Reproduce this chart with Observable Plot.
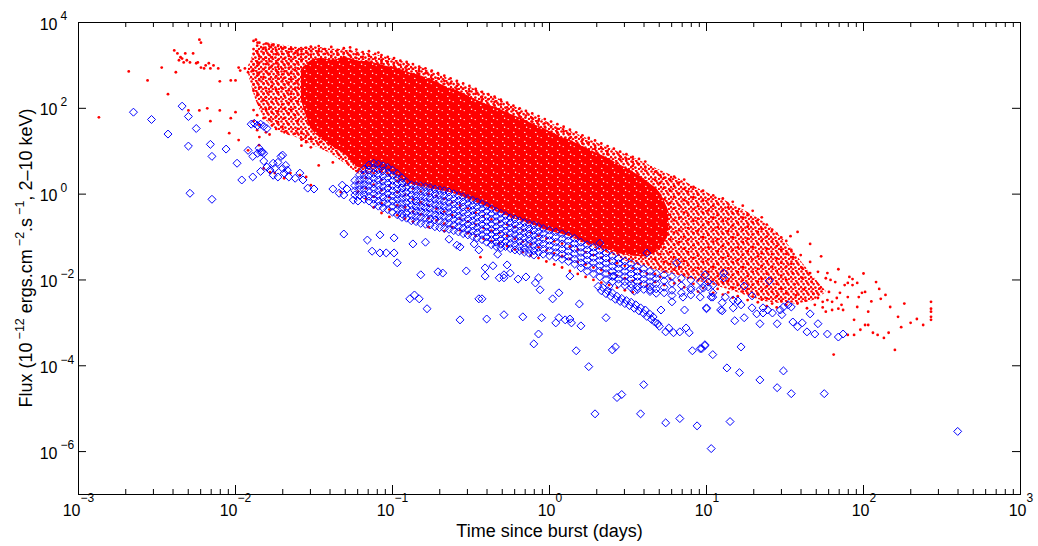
<!DOCTYPE html>
<html><head><meta charset="utf-8">
<script src="https://cdn.jsdelivr.net/npm/d3@7"></script>
<script src="https://cdn.jsdelivr.net/npm/@observablehq/plot@0.6"></script>
<style>body{margin:0;background:#fff;}</style>
</head><body><div id="chart"></div>
<script>
// ---------- DATA (log10 of time in days, log10 of flux) ----------
const xTickExps = [-3, -2, -1, 0, 1, 2, 3];
const yTickExps = [4, 2, 0, -2, -4, -6];
const minorMult = [2, 3, 4, 5, 6, 7, 8, 9];
const xTitle = "Time since burst (days)";

// outline of the whole red cloud (medium density, speckled)
const outerLogT  = [-1.92,-1.86,-1.80,-1.70,-1.60,-1.50,-1.40,-1.30,-1.20,-1.10,-1.00,-0.90,-0.80,-0.70,-0.60,-0.50,-0.40,-0.30,-0.20,-0.10,0.00,0.10,0.20,0.30,0.40,0.50,0.60,0.70,0.80,0.90,1.00,1.10,1.20,1.30,1.40,1.50,1.60,1.70,1.76];
const outerHiLogF = [2.95,3.40,3.52,3.47,3.42,3.44,3.38,3.36,3.30,3.24,3.15,3.05,2.93,2.78,2.62,2.48,2.34,2.18,2.00,1.84,1.66,1.52,1.36,1.20,1.04,0.90,0.74,0.56,0.40,0.22,0.04,-0.12,-0.30,-0.50,-0.75,-1.10,-1.55,-2.00,-2.25];
const outerLoLogF = [2.85,2.10,1.70,1.42,1.30,1.12,0.95,0.70,0.45,0.50,0.40,0.22,0.15,0.08,0.00,-0.15,-0.30,-0.48,-0.62,-0.74,-0.86,-0.96,-1.12,-1.28,-1.42,-1.58,-1.70,-1.80,-1.88,-1.98,-2.08,-2.18,-2.30,-2.42,-2.52,-2.55,-2.55,-2.45,-2.30];

// saturated core of the red cloud
const coreLogT  = [-1.58,-1.52,-1.46,-1.38,-1.30,-1.22,-1.14,-1.06,-0.98,-0.90,-0.82,-0.74,-0.66,-0.58,-0.50,-0.42,-0.34,-0.26,-0.18,-0.10,-0.02,0.06,0.14,0.22,0.30,0.38,0.46,0.54,0.62,0.70,0.76];
const coreHiLogF = [2.90,3.10,3.16,3.12,3.18,3.10,3.08,3.00,2.94,2.84,2.76,2.64,2.50,2.40,2.26,2.12,2.02,1.88,1.76,1.62,1.50,1.36,1.24,1.10,0.96,0.82,0.66,0.50,0.30,0.05,-0.40];
const coreLoLogF = [2.20,1.55,1.30,1.10,0.92,0.62,0.62,0.60,0.45,0.26,0.18,0.12,0.06,-0.02,-0.14,-0.26,-0.40,-0.52,-0.62,-0.72,-0.84,-0.92,-1.00,-1.12,-1.22,-1.30,-1.40,-1.45,-1.45,-1.30,-0.95];

const redIsolated = [[-2.87,1.79],[-2.68,2.86],[-2.56,2.65],[-2.47,2.95],[-2.43,2.33],[-2.38,2.84],
[-2.39,3.35],[-2.37,3.28],[-2.35,3.19],[-2.36,3.12],[-2.34,3.16],[-2.33,3.07],[-2.31,3.12],[-2.32,3.28],[-2.29,3.07],[-2.27,3.28],[-2.25,3.05],[-2.24,3.07],[-2.22,2.95],[-2.20,2.93],[-2.19,3.00],[-2.17,3.05],[-2.16,2.93],[-2.14,3.00],[-2.11,2.93],[-2.23,3.60],[-2.22,3.53],
[-2.10,2.63],[-2.03,2.65],[-2.00,2.65],[-2.30,1.95],[-2.23,1.95],[-2.18,2.00],[-2.10,1.95],[-2.00,1.91],[-2.16,1.70],[-2.03,1.77],[-2.04,1.42],[-1.98,1.26],[-1.92,1.02],
[-1.98,2.95],[-1.97,2.88],[-1.94,2.93],[-1.92,2.84],[-1.89,2.88],
[-1.85,1.14],[-1.82,0.60],[-1.78,0.51],[-1.75,0.49],[-1.69,0.37],[-1.65,0.49],[-1.59,0.44],[-1.55,0.40],[-1.52,0.21],[-1.46,1.21],[-1.36,1.09],[-1.47,0.67],[-1.38,0.74],[-1.34,0.91],[-1.33,0.05],
[-1.87,3.60],[-1.86,3.53],[-1.76,3.47],[-1.27,3.42],[-1.09,3.30],[-0.44,-1.47]];

const redEarly = [
[-1.885,[3.57,3.38,3.27,3.02,2.88,2.55,2.41,1.96,1.70]],
[-1.862,[3.46,3.33,3.09,2.99,2.76,2.30,1.84,1.49]],
[-1.848,[3.53,3.21,3.06,2.83,2.66,2.49,2.08,1.62,1.33]],
[-1.821,[3.41,3.29,3.14,2.91,2.73,2.58,2.34,2.19,1.77]],
[-1.806,[3.51,3.37,3.18,3.03,2.86,2.47,2.26,1.98,1.44]],
[-1.783,[3.44,3.24,3.10,2.95,2.80,2.68,2.39,2.02,1.73,1.39]],
[-1.768,[3.48,3.32,3.19,2.99,2.61,2.52,2.14,1.90,1.60]],
[-1.741,[3.36,3.26,3.05,2.89,2.75,2.44,2.23,1.81,1.52]],
[-1.729,[3.45,3.13,2.97,2.84,2.69,2.57,2.37,1.93,1.68]],
[-1.702,[3.39,3.27,3.08,2.92,2.79,2.63,2.47,2.09,1.57]],
[-1.688,[3.42,3.16,3.01,2.86,2.71,2.55,2.29,1.99,1.77,1.45]],
[-1.661,[3.31,3.22,3.04,2.94,2.78,2.60,2.42,2.12,1.88,1.63]],
[-1.647,[3.38,3.11,2.97,2.82,2.67,2.50,2.34,2.18,1.96]],
[-1.622,[3.29,3.19,3.02,2.89,2.74,2.58,2.44,2.25,2.03,1.84,1.41]],
[-1.603,[3.35,3.24,3.07,2.93,2.80,2.65,2.48,2.31,2.16,1.71,1.52]],
[-1.58,[3.37,3.26,3.12,1.42,1.27,1.13]],
[-1.55,[3.41,3.30,3.20,1.36,1.21]],
[-1.52,[3.44,3.34,3.25,1.29,1.09]]];

const redUpper = [
[-1.47,[3.45,3.33,3.24]],[-1.43,[3.38,3.27]],[-1.39,[3.43,3.31,3.22]],[-1.35,[3.36,3.25]],
[-1.31,[3.40,3.29,3.19]],[-1.27,[3.34,3.23]],[-1.23,[3.37,3.26,3.17]],[-1.19,[3.31,3.20]],
[-1.15,[3.33,3.22,3.14]],[-1.11,[3.27,3.16]],[-1.07,[3.24,3.12,3.05]],[-1.03,[3.20,3.09]],
[-0.99,[3.17,3.06,2.98]],[-0.95,[3.11,3.01]],[-0.91,[3.08,2.98,2.90]],[-0.87,[3.03,2.92]],
[-0.83,[2.97,2.87,2.80]],[-0.79,[2.93,2.82]],[-0.75,[2.88,2.77,2.68]],[-0.71,[2.82,2.70]],
[-0.67,[2.76,2.64,2.57]],[-0.63,[2.70,2.58]],[-0.59,[2.64,2.52,2.44]],[-0.55,[2.58,2.46]],
[-0.51,[2.52,2.40,2.32]],[-0.47,[2.45,2.34]],[-0.43,[2.38,2.27,2.20]],[-0.39,[2.33,2.21]],
[-0.35,[2.27,2.15,2.07]],[-0.31,[2.20,2.09]],[-0.27,[2.13,2.02,1.95]],[-0.23,[2.06,1.96]],
[-0.19,[2.00,1.89,1.81]],[-0.15,[1.94,1.83]],[-0.11,[1.88,1.77,1.69]],[-0.07,[1.82,1.71]],
[-0.03,[1.75,1.65,1.57]],[0.01,[1.69,1.58]],[0.05,[1.63,1.52,1.44]],[0.09,[1.57,1.46]],
[0.13,[1.50,1.40,1.31]],[0.17,[1.44,1.33]],[0.21,[1.37,1.26,1.18]],[0.25,[1.31,1.20]],
[0.29,[1.25,1.13,1.05]],[0.33,[1.18,1.07]],[0.37,[1.12,1.01,0.93]],[0.41,[1.06,0.94]],
[0.45,[0.99,0.88,0.80]],[0.49,[0.93,0.82]],[0.53,[0.87,0.75,0.66]],[0.57,[0.82,0.70]],
[0.61,[0.76,0.64,0.55]]];

const redLower = [
[-1.22,[0.55,0.28,0.06]],[-1.17,[0.61,0.38,0.14,-0.11]],[-1.12,[0.49,0.22,-0.06,-0.31]],
[-1.07,[0.56,0.33,0.09,-0.21,-0.44]],[-1.02,[0.44,0.19,-0.07,-0.36,-0.53]],[-0.97,[0.31,0.04,-0.26,-0.49]],
[-0.92,[0.21,-0.02,-0.31,-0.57]],[-0.87,[0.13,-0.13,-0.41,-0.64]],[-0.82,[0.06,-0.19,-0.47]],
[-0.77,[0.01,-0.27,-0.56,-0.77]],[-0.72,[-0.04,-0.34,-0.61]],[-0.67,[-0.11,-0.41,-0.69,-0.86]],
[-0.62,[-0.19,-0.49,-0.77]],[-0.57,[-0.27,-0.57,-0.84]],[-0.52,[-0.33,-0.64,-0.91]],
[-0.47,[-0.43,-0.71,-0.97]],[-0.42,[-0.51,-0.79,-1.04]],[-0.37,[-0.59,-0.85,-1.09]],
[-0.32,[-0.65,-0.91,-1.15]],[-0.27,[-0.71,-0.97,-1.21]],[-0.22,[-0.77,-1.04,-1.29]],
[-0.17,[-0.84,-1.11,-1.35]],[-0.12,[-0.89,-1.17,-1.43]],[-0.07,[-0.97,-1.24,-1.49]],
[-0.02,[-1.04,-1.31,-1.57]],[0.03,[-1.10,-1.38,-1.64]],[0.08,[-1.15,-1.44,-1.71]],
[0.13,[-1.22,-1.51,-1.79]],[0.18,[-1.29,-1.58,-1.86]],[0.23,[-1.35,-1.64,-1.93]],
[0.28,[-1.42,-1.71,-2.00]],[0.33,[-1.48,-1.77,-2.06]],[0.38,[-1.55,-1.84,-2.12]],
[0.43,[-1.61,-1.90,-2.18]],[0.48,[-1.67,-1.96,-2.24]],[0.53,[-1.73,-2.02,-2.29]],
[0.58,[-1.79,-2.08]],[0.62,[-1.85,-2.13]]];

const redLate = [
[0.672,[0.52,0.33,0.11,-0.18,-0.41,-0.66,-0.97,-1.29,-1.52,-1.86,-2.05]],
[0.705,[0.44,0.26,-0.02,-0.29,-0.55,-0.83,-1.11,-1.40,-1.69,-1.93]],
[0.731,[0.38,0.15,-0.12,-0.37,-0.72,-0.95,-1.24,-1.58,-1.81,-2.12]],
[0.768,[0.33,0.08,-0.21,-0.48,-0.77,-1.06,-1.35,-1.63,-1.97]],
[0.794,[0.41,0.19,-0.06,-0.33,-0.61,-0.90,-1.18,-1.47,-1.76,-2.08]],
[0.826,[0.27,0.01,-0.26,-0.55,-0.84,-1.12,-1.41,-1.70,-2.01]],
[0.858,[0.34,0.12,-0.14,-0.43,-0.70,-0.99,-1.27,-1.56,-1.88,-2.17]],
[0.883,[0.06,-0.20,-0.50,-0.79,-1.06,-1.35,-1.66,-1.95]],
[0.917,[0.17,-0.07,-0.35,-0.62,-0.91,-1.19,-1.49,-1.77,-2.09]],
[0.946,[-0.01,-0.28,-0.57,-0.85,-1.14,-1.43,-1.72,-2.01,-2.27]],
[0.978,[0.08,-0.15,-0.44,-0.72,-1.00,-1.29,-1.58,-1.87,-2.19]],
[1.012,[-0.12,-0.38,-0.66,-0.95,-1.24,-1.52,-1.81,-2.10]],
[1.043,[-0.03,-0.27,-0.55,-0.83,-1.11,-1.40,-1.69,-1.99,-2.30]],
[1.071,[-0.22,-0.49,-0.77,-1.05,-1.33,-1.62,-1.91,-2.21]],
[1.104,[-0.10,-0.36,-0.63,-0.92,-1.20,-1.49,-1.78,-2.07,-2.34]],
[1.138,[-0.31,-0.58,-0.86,-1.15,-1.44,-1.73,-2.02,-2.29]],
[1.167,[-0.18,-0.45,-0.73,-1.01,-1.30,-1.59,-1.88,-2.18,-2.41]],
[1.199,[-0.40,-0.67,-0.95,-1.24,-1.53,-1.82,-2.12,-2.38]],
[1.231,[-0.27,-0.55,-0.83,-1.12,-1.41,-1.70,-2.00,-2.27]],
[1.262,[-0.49,-0.76,-1.04,-1.33,-1.62,-1.91,-2.21,-2.47]],
[1.294,[-0.39,-0.66,-0.94,-1.23,-1.52,-1.81,-2.11,-2.39]],
[1.327,[-0.60,-0.88,-1.16,-1.45,-1.74,-2.04,-2.33,-2.52]],
[1.352,[-0.54,-0.81,-1.09,-1.38,-1.67,-1.97,-2.26,-2.46]],
[1.384,[-0.71,-0.99,-1.27,-1.56,-1.85,-2.15,-2.43,-2.61]],
[1.418,[-0.83,-1.11,-1.40,-1.69,-1.98,-2.28,-2.55]],
[1.447,[-0.92,-1.21,-1.50,-1.79,-2.09,-2.38,-2.64]],
[1.476,[-1.01,-1.30,-1.60,-1.90,-2.20,-2.49]],
[1.508,[-1.09,-1.39,-1.69,-2.00,-2.31,-2.58]]];

const redTail = [[1.535,-0.98],[1.58,-0.88],[1.66,-1.16],[1.55,-1.47],[1.61,-1.72],[1.66,-1.84],[1.71,-1.81],[1.77,-1.84],[1.79,-2.00],[1.82,-2.05],[1.90,-2.07],[1.93,-2.12],[1.96,-2.07],[1.99,-2.30],[2.01,-2.28],[2.08,-2.05],[2.10,-2.21],[1.85,-2.30],[1.90,-2.40],[1.83,-2.42],[1.80,-2.51],[1.77,-2.47],[1.74,-2.51],[1.71,-2.42],[1.76,-2.74],[1.80,-2.70],[1.84,-2.67],[1.87,-2.70],[1.96,-2.63],[2.03,-2.74],[2.11,-2.44],[2.17,-2.63],[1.94,-2.93],[1.98,-3.16],[2.01,-3.05],[2.03,-3.05],[2.06,-3.23],[2.09,-3.28],[2.13,-3.35],[2.16,-3.23],[2.22,-2.86],[2.30,-3.00],[2.34,-2.91],[2.20,-3.63],[1.81,-3.74],[1.90,-3.28],[1.94,-3.28],[2.43,-2.51],[2.43,-2.67],[2.43,-2.74],[2.43,-2.86],[2.43,-2.93],[1.91,-1.93],[1.93,-1.98],
[1.54,-1.30],[1.54,-1.62],[1.55,-1.85],[1.56,-2.10],[1.57,-2.36],[1.58,-2.55],[1.60,-1.42],[1.61,-1.95],[1.62,-2.22],[1.63,-2.48],[1.64,-2.66],[1.66,-1.58],[1.67,-2.05],[1.68,-2.32],[1.69,-2.58],[1.72,-2.20],[1.74,-2.64],[1.76,-1.96],[1.78,-2.28],[1.86,-2.58],[1.88,-2.12],[1.97,-2.40],[2.05,-2.50],[2.14,-2.35],[2.26,-2.55],[2.24,-3.10],[2.38,-3.05],[1.73,-1.45],[1.84,-1.75],[2.00,-1.85]];

const blueSparse = [[-2.65,1.91],[-2.535,1.74],[-2.43,1.40],[-2.34,2.05],[-2.30,1.81],[-2.25,1.53],[-2.30,1.12],[-2.16,1.16],[-2.15,0.88],[-2.06,1.05],[-1.99,0.72],[-1.96,0.33],[-1.89,0.40],[-2.29,0.02],[-2.15,-0.12],
[-1.90,1.63],[-1.88,1.65],[-1.86,1.60],[-1.84,1.63],[-1.82,1.58],[-1.80,1.53],
[-1.92,1.02],[-1.85,1.07],[-1.83,0.98],[-1.89,0.88],[-1.86,0.95],[-1.84,0.98],[-1.82,0.95],[-1.82,0.77],
[-1.80,0.63],[-1.78,0.56],[-1.76,0.72],[-1.75,0.60],[-1.73,0.74],[-1.71,0.88],[-1.70,0.91],[-1.70,0.60],[-1.68,0.67],[-1.67,0.56],[-1.69,0.49],[-1.66,0.40],[-1.84,0.53],[-1.76,0.44],[-1.73,0.40],[-1.62,0.37],[-1.59,0.49],[-1.57,0.33],[-1.54,0.14],[-1.50,0.12],
[-1.38,0.12],[-1.34,0.02],[-1.32,0.21],[-1.31,-0.02],[-1.29,0.12],[-1.25,-0.14],[-1.22,-0.16],
[-1.31,-0.93],[-1.16,-1.07],[-1.08,-0.95],[-0.99,-1.02],[-1.13,-1.33],[-1.08,-1.37],[-1.04,-1.37],[-0.99,-1.37],[-0.97,-1.60],[-0.87,-1.16],[-0.79,-1.12],[-0.82,-1.88],[-0.71,-1.81],[-0.68,-1.84],[-0.64,-1.05],[-0.59,-1.19],[-0.57,-1.23],[-0.53,-1.79],[-0.48,-1.16],[-0.45,-1.30],[-0.89,-2.44],[-0.86,-2.35],[-0.83,-2.44],[-0.78,-2.67],[-0.57,-2.93],[-0.45,-2.44],
[-0.41,-1.72],[-0.41,-1.91],[-0.36,-1.67],[-0.33,-1.40],[-0.27,-1.65],[-0.25,-1.84],[-0.32,-1.95],[-0.29,-1.95],[-0.29,-1.88],[-0.20,-1.98],[-0.15,-1.93],[-0.09,-2.07],[-0.07,-1.95],[-0.06,-2.23],[-0.43,-2.44],[0.02,-2.44],[0.06,-2.30],[0.19,-2.56],
[-0.40,-2.91],[-0.29,-2.81],[-0.17,-2.86],[-0.05,-2.88],[0.04,-3.00],[0.06,-2.88],[0.10,-2.93],[0.13,-2.91],[0.14,-3.00],[0.20,-3.07],[0.36,-2.88],[-0.07,-3.26],[-0.10,-3.49],[0.17,-3.65],[0.40,-3.63],[0.42,-3.56],[0.25,-4.02],[0.43,-4.74],[0.46,-4.67],[0.60,-4.44],[0.29,-5.12],[0.58,-5.12],[0.74,-5.33],[0.83,-5.23],[0.94,-5.40],[1.03,-5.93],[1.15,-5.30],
[0.13,-1.91],[0.32,-1.14],[0.38,-2.14],[0.41,-1.91],[0.54,-2.26],[0.64,-2.23],[0.71,-2.70],[0.78,-2.51],[0.86,-2.70],[0.90,-2.23],[0.85,-2.40],[1.00,-2.65],[1.04,-2.40],[1.09,-2.70],
[0.91,-3.65],[0.96,-3.60],[0.99,-3.53],[1.04,-3.74],
[0.74,-3.21],[0.76,-3.12],[0.79,-3.23],[0.83,-3.21],[0.87,-3.12],[0.89,-3.23],
[0.99,-1.88],[1.01,-2.05],[1.01,-2.16],[1.04,-2.12],[0.98,-2.19],[1.11,-1.95],[1.24,-2.14],[1.04,-2.30],[1.03,-2.40],[1.12,-2.40],[1.17,-2.47],[1.20,-2.49],[1.22,-2.58],[1.17,-2.65],[1.29,-2.37],[1.40,-2.02],[1.00,-2.67],[1.10,-2.53],[1.10,-2.72],[1.18,-2.95],[1.24,-2.88],[1.29,-2.65],[1.34,-3.02],[1.32,-2.79],[1.36,-2.65],[1.36,-2.77],[1.39,-2.70],[1.42,-2.77],[1.45,-3.02],[1.47,-2.70],[1.49,-2.63],[1.52,-2.58],[1.54,-2.63],[1.48,-2.81],[1.55,-2.98],[1.58,-3.09],[1.61,-3.00],[1.64,-3.21],[1.66,-2.79],[1.69,-3.26],[1.71,-3.02],[1.77,-3.26],[1.84,-3.33],[1.87,-3.26],
[0.99,-3.51],[0.97,-3.60],[1.22,-3.56],[1.13,-4.05],[1.21,-4.16],[1.34,-4.33],[1.49,-4.12],[1.45,-4.51],[1.54,-4.65],[1.75,-4.65],[2.60,-5.53],
[0.62,-1.37],[0.81,-1.60],[1.11,-1.84]];

const blueBand = [
[-1.24,[0.32,0.20,0.08,-0.02]],
[-1.21,[0.45,0.33,0.21,0.10,-0.03]],
[-1.18,[0.58,0.45,0.34,0.22,0.10,-0.02,-0.12]],
[-1.15,[0.68,0.56,0.44,0.32,0.20,0.08,-0.05,-0.16]],
[-1.12,[0.72,0.60,0.48,0.36,0.24,0.12,0.00,-0.12,-0.24]],
[-1.09,[0.70,0.57,0.45,0.33,0.21,0.09,-0.03,-0.16,-0.28]],
[-1.06,[0.66,0.54,0.42,0.30,0.18,0.06,-0.07,-0.19,-0.32]],
[-1.03,[0.62,0.50,0.38,0.26,0.14,0.02,-0.10,-0.22,-0.36]],
[-1.00,[0.56,0.44,0.32,0.20,0.08,-0.04,-0.16,-0.28,-0.42]],
[-0.97,[0.48,0.36,0.24,0.12,0.00,-0.12,-0.24,-0.36,-0.48]],
[-0.94,[0.38,0.26,0.14,0.02,-0.10,-0.22,-0.34,-0.46,-0.54]],
[-0.91,[0.28,0.16,0.04,-0.08,-0.20,-0.32,-0.44,-0.56]],
[-0.88,[0.22,0.10,-0.02,-0.14,-0.26,-0.38,-0.50,-0.62]],
[-0.85,[0.20,0.08,-0.04,-0.16,-0.28,-0.40,-0.52,-0.64]],
[-0.82,[0.19,0.07,-0.05,-0.17,-0.29,-0.41,-0.54,-0.68]],
[-0.79,[0.17,0.05,-0.07,-0.19,-0.31,-0.43,-0.56,-0.70]],
[-0.76,[0.15,0.03,-0.09,-0.21,-0.33,-0.45,-0.58,-0.72]],
[-0.73,[0.12,0.00,-0.12,-0.24,-0.36,-0.48,-0.60,-0.76]],
[-0.70,[0.10,-0.02,-0.14,-0.26,-0.38,-0.50,-0.63,-0.78]],
[-0.67,[0.08,-0.04,-0.16,-0.28,-0.40,-0.52,-0.66,-0.80]],
[-0.64,[0.05,-0.07,-0.19,-0.31,-0.43,-0.55,-0.68,-0.82]],
[-0.61,[0.01,-0.11,-0.23,-0.35,-0.47,-0.59,-0.72,-0.85]],
[-0.58,[-0.03,-0.15,-0.27,-0.39,-0.51,-0.63,-0.76,-0.88]],
[-0.55,[-0.06,-0.18,-0.30,-0.42,-0.54,-0.66,-0.79,-0.92]],
[-0.52,[-0.10,-0.22,-0.34,-0.46,-0.58,-0.70,-0.82,-0.95]],
[-0.49,[-0.14,-0.26,-0.38,-0.50,-0.62,-0.74,-0.86,-0.98]],
[-0.46,[-0.18,-0.30,-0.42,-0.54,-0.66,-0.78,-0.90,-1.02]],
[-0.43,[-0.22,-0.34,-0.46,-0.58,-0.70,-0.82,-0.94,-1.06]],
[-0.40,[-0.28,-0.40,-0.52,-0.64,-0.76,-0.88,-1.00,-1.12]],
[-0.37,[-0.34,-0.46,-0.58,-0.70,-0.82,-0.94,-1.06,-1.18]],
[-0.34,[-0.40,-0.52,-0.64,-0.76,-0.88,-1.00,-1.12,-1.22]],
[-0.31,[-0.45,-0.57,-0.69,-0.81,-0.93,-1.05,-1.17,-1.25]],
[-0.28,[-0.50,-0.62,-0.74,-0.86,-0.98,-1.10,-1.22]],
[-0.25,[-0.55,-0.67,-0.79,-0.91,-1.03,-1.15,-1.27]],
[-0.22,[-0.58,-0.70,-0.82,-0.94,-1.06,-1.18,-1.30]],
[-0.19,[-0.62,-0.74,-0.86,-0.98,-1.10,-1.22,-1.32]],
[-0.16,[-0.66,-0.78,-0.90,-1.02,-1.14,-1.26,-1.35]],
[-0.13,[-0.69,-0.81,-0.93,-1.05,-1.17,-1.29,-1.38]],
[-0.10,[-0.72,-0.84,-0.96,-1.08,-1.20,-1.32,-1.42]],
[-0.07,[-0.76,-0.88,-1.00,-1.12,-1.24,-1.36]],
[-0.04,[-0.80,-0.92,-1.04,-1.16,-1.28,-1.40]],
[0.00,[-0.84,-0.96,-1.08,-1.20,-1.32,-1.44]],
[0.04,[-0.88,-1.00,-1.12,-1.24,-1.36,-1.47]],
[0.08,[-0.92,-1.04,-1.16,-1.28,-1.40,-1.52]],
[0.12,[-0.97,-1.09,-1.21,-1.33,-1.45,-1.57]],
[0.16,[-1.03,-1.15,-1.27,-1.39,-1.51,-1.63]],
[0.20,[-1.12,-1.24,-1.36,-1.48,-1.60,-1.72]],
[0.24,[-1.18,-1.30,-1.42,-1.54,-1.66,-1.80]],
[0.28,[-1.24,-1.36,-1.48,-1.60,-1.72,-1.86]],
[0.32,[-1.31,-1.43,-1.55,-1.67,-1.79,-1.93]],
[0.36,[-1.37,-1.49,-1.61,-1.73,-1.85,-1.99]],
[0.40,[-1.44,-1.56,-1.68,-1.80,-1.92,-2.04]],
[0.44,[-1.50,-1.62,-1.74,-1.86,-1.98,-2.09]],
[0.48,[-1.56,-1.68,-1.80,-1.92,-2.04,-2.13]],
[0.52,[-1.62,-1.74,-1.86,-1.98,-2.10,-2.18]],
[0.56,[-1.68,-1.80,-1.92,-2.04,-2.16,-2.22]],
[0.60,[-1.74,-1.86,-1.98,-2.10,-2.22]],
[0.64,[-1.80,-1.92,-2.04,-2.16,-2.27]],
[0.68,[-1.85,-1.97,-2.09,-2.21,-2.31]],
[0.73,[-1.88,-2.02,-2.17,-2.30]],
[0.78,[-1.92,-2.08,-2.24,-2.36]],
[0.84,[-1.96,-2.13,-2.30]],
[0.90,[-2.00,-2.18,-2.35]],
[0.96,[-2.04,-2.22,-2.40]]];

const blueHook = [[0.31,-2.15],[0.33,-2.25],[0.34,-2.18],[0.36,-2.32],[0.37,-2.25],[0.39,-2.38],[0.40,-2.30],[0.42,-2.45],[0.43,-2.38],[0.45,-2.50],[0.46,-2.43],[0.48,-2.55],[0.49,-2.48],[0.51,-2.60],[0.52,-2.52],[0.54,-2.66],[0.55,-2.58],[0.57,-2.72],[0.58,-2.65],[0.60,-2.78],[0.61,-2.70],[0.62,-2.85],[0.64,-2.80],[0.65,-2.92],[0.66,-2.86],[0.67,-2.98],[0.69,-3.02],[0.70,-3.08]];

// ---------- BUILD ----------
const pairs = arr => arr.map(([lx, ly]) => ({t: 10 ** lx, f: 10 ** ly}));
const cols = arr => arr.flatMap(([lx, ys]) => ys.map(ly => ({t: 10 ** lx, f: 10 ** ly})));
const red = [...pairs(redIsolated), ...cols(redEarly), ...cols(redUpper), ...cols(redLower), ...cols(redLate), ...pairs(redTail)];
const blue = [...pairs(blueSparse), ...cols(blueBand), ...pairs(blueHook)];
const band = (T, Hi, Lo) => T.map((lx, i) => ({t: 10 ** lx, hi: 10 ** Hi[i], lo: 10 ** Lo[i]}));
const outer = band(outerLogT, outerHiLogF, outerLoLogF);
const core = band(coreLogT, coreHiLogF, coreLoLogF);

const W = 1038, H = 546, mL = 78, mR = 18, mT = 22, mB = 52;
const innerW = W - mL - mR, innerH = H - mT - mB;
const xMajor = xTickExps.map(e => 10 ** e);
const xMinor = xTickExps.slice(0, -1).flatMap(e => minorMult.map(m => m * 10 ** e));
const yMajor = yTickExps.map(e => 10 ** e);
const xNeg = xTickExps.filter(e => e < 0), xPos = xTickExps.filter(e => e >= 0);
const font = "'Liberation Sans', Arial, Helvetica, sans-serif";
const expText = e => e < 0 ? "\u2212" + (-e) : String(e);

const chart = Plot.plot({
  width: W, height: H, marginLeft: mL, marginRight: mR, marginTop: mT, marginBottom: mB,
  style: {fontFamily: font, background: "white", color: "black", overflow: "visible"},
  x: {type: "log", domain: [1e-3, 1e3], axis: null},
  y: {type: "log", domain: [1e-7, 1e4], axis: null},
  marks: [
    Plot.areaY(outer, {x: "t", y1: "lo", y2: "hi", fill: "#ff0000", curve: "catmull-rom"}),
    Plot.areaY(core, {x: "t", y1: "lo", y2: "hi", fill: "#ff0000", curve: "catmull-rom"}),
    Plot.dot(red, {x: "t", y: "f", r: 1.4, fill: "#ff0000"}),
    Plot.dot(blue, {x: "t", y: "f", r: 3.6, symbol: d3.symbolDiamond2, stroke: "#0000ff", strokeWidth: 1, fill: "none"}),
    Plot.ruleX(xMajor, {x: d => d, insetTop: innerH - 9, stroke: "black"}),
    Plot.ruleX(xMajor, {x: d => d, insetBottom: innerH - 9, stroke: "black"}),
    Plot.ruleX(xMinor, {x: d => d, insetTop: innerH - 5, stroke: "black"}),
    Plot.ruleX(xMinor, {x: d => d, insetBottom: innerH - 5, stroke: "black"}),
    Plot.ruleY(yMajor, {y: d => d, insetRight: innerW - 8, stroke: "black"}),
    Plot.ruleY(yMajor, {y: d => d, insetLeft: innerW - 8, stroke: "black"}),
    Plot.frame({stroke: "black"}),
    Plot.text(xNeg, {x: e => 10 ** e, frameAnchor: "bottom", text: () => "10", textAnchor: "end", dx: 2, dy: 21, fontSize: 16}),
    Plot.text(xNeg, {x: e => 10 ** e, frameAnchor: "bottom", text: expText, textAnchor: "start", dx: 2, dy: 7, fontSize: 12}),
    Plot.text(xPos, {x: e => 10 ** e, frameAnchor: "bottom", text: () => "10", textAnchor: "end", dx: 6, dy: 21, fontSize: 16}),
    Plot.text(xPos, {x: e => 10 ** e, frameAnchor: "bottom", text: expText, textAnchor: "start", dx: 6, dy: 7, fontSize: 12}),
    Plot.text(yTickExps, {y: e => 10 ** e, frameAnchor: "left", text: () => "10", textAnchor: "end", dx: -21, dy: 2, fontSize: 16}),
    Plot.text(yTickExps, {y: e => 10 ** e, frameAnchor: "left", text: expText, textAnchor: "start", dx: -18, dy: -6, fontSize: 12}),
    Plot.text([xTitle], {frameAnchor: "bottom", text: d => d, dy: 42, fontSize: 18})
  ]
});

const svg = d3.select(chart);
const defs = svg.insert("defs", ":first-child");
// speckle texture (many small red dots) for the medium-density part of the red cloud
const pat = defs.append("pattern")
  .attr("id", "speckle").attr("width", 10).attr("height", 10).attr("patternUnits", "userSpaceOnUse");
[[1.5,1.5],[6.2,0.8],[3.6,4.1],[8.6,4.6],[0.9,7.2],[5.4,7.6],[9.1,9.0],[3.0,9.4],[7.4,2.9]].forEach(([cx, cy]) =>
  pat.append("circle").attr("cx", cx).attr("cy", cy).attr("r", 1.35).attr("fill", "#ff0000"));
// dense texture for the saturated core (red with a few white gaps)
const pat2 = defs.append("pattern")
  .attr("id", "dense").attr("width", 11).attr("height", 9).attr("patternUnits", "userSpaceOnUse");
pat2.append("rect").attr("width", 11).attr("height", 9).attr("fill", "#ff0000");
[[2.2,2.6],[7.8,6.4],[9.6,1.2]].forEach(([cx, cy]) =>
  pat2.append("circle").attr("cx", cx).attr("cy", cy).attr("r", 0.7).attr("fill", "#ffffff"));
const areas = svg.selectAll('g[aria-label="area"]').nodes();
d3.select(areas[0]).attr("fill", "url(#speckle)").selectAll("path").attr("fill", "url(#speckle)");
d3.select(areas[1]).attr("fill", "url(#dense)").selectAll("path").attr("fill", "url(#dense)");

// y-axis title with superscripts
const yl = svg.append("text")
  .attr("transform", `translate(32,${mT + innerH / 2}) rotate(-90)`)
  .attr("text-anchor", "middle").attr("font-size", 18).attr("font-family", font).attr("fill", "black");
const yParts = [["Flux (10", 0], ["\u221212", 1], [" ergs.cm", 0], ["\u22122", 1], [".s", 0], ["\u22121", 1], [", 2\u201310 keV)", 0]];
let raised = 0;
for (const [s, sup] of yParts) {
  const ts = yl.append("tspan").text(s);
  if (sup && !raised) { ts.attr("dy", -8).attr("dx", 3); raised = 1; }
  else if (!sup && raised) { ts.attr("dy", 8); raised = 0; }
  if (sup) ts.attr("font-size", 12.5);
}
document.getElementById("chart").appendChild(chart);
</script>
</body></html>
